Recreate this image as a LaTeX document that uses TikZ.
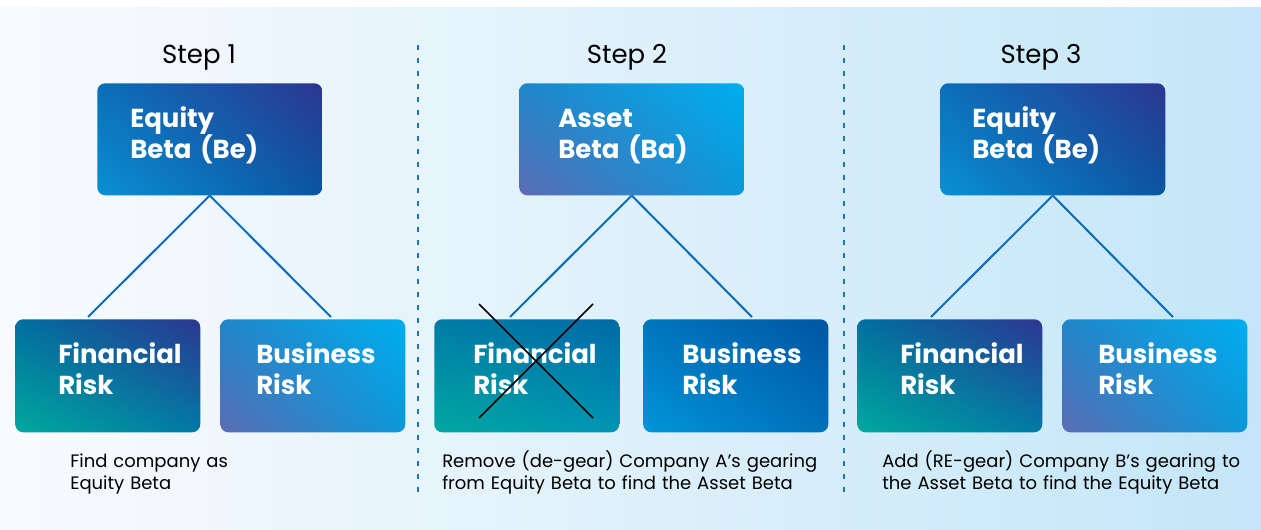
\documentclass[tikz,border=0pt]{standalone}
\usepackage{fontspec}
\setmainfont{Poppins}
\usetikzlibrary{shadings}
\newlength\px
\setlength\px{0.75pt}
\definecolor{bgl}{HTML}{F8FBFE}
\definecolor{bgr}{HTML}{C4E6F8}
\definecolor{linkc}{HTML}{0B6CB8}
\definecolor{divc}{HTML}{1B75BC}
% card colours
\definecolor{eqA}{HTML}{0A6FB8}\definecolor{eqB}{HTML}{2D3691}
\definecolor{eqC}{HTML}{0A90D5}\definecolor{eqD}{HTML}{0A55A0}
\definecolor{cyA}{HTML}{1F86C8}\definecolor{cyB}{HTML}{00AEEF}
\definecolor{cyC}{HTML}{5B6CB4}\definecolor{cyD}{HTML}{0A97D8}
\definecolor{tlA}{HTML}{006FA0}\definecolor{tlB}{HTML}{2D3691}
\definecolor{tlC}{HTML}{00A99D}\definecolor{tlD}{HTML}{0079A6}
\definecolor{tmA}{HTML}{007BA6}\definecolor{tmB}{HTML}{006AA6}
\definecolor{tmC}{HTML}{00A8A0}\definecolor{tmD}{HTML}{0095B5}
\definecolor{bmA}{HTML}{0075BD}\definecolor{bmB}{HTML}{0055A4}
\definecolor{bmC}{HTML}{0095D8}\definecolor{bmD}{HTML}{0070BB}

\begin{document}
\begin{tikzpicture}[x=1\px,y=-1\px]
\tikzset{card/.style={anchor=north west, inner xsep=0pt, inner ysep=0pt,
    rounded corners=6pt, text=white, align=left,
    font=\fontsize{19.5pt}{23.25pt}\selectfont\bfseries,
    text height=44\px, execute at begin node={\leftskip=#1\px}},
  topcard/.style={card=#1, text width=225\px, text depth=68\px},
  lowcard/.style={card=#1, text width=185\px, text depth=69\px},
  sh/.style={upper left=#1A, upper right=#1B, lower left=#1C, lower right=#1D},
  link/.style={draw=linkc, line width=1.5pt},
  steplbl/.style={anchor=base, font=\fontsize{19.5pt}{24pt}\selectfont},
  note/.style={anchor=base west, align=left, text width=400\px, inner sep=0pt,
    font=\fontsize{13.5pt}{16.5pt}\selectfont}}
\useasboundingbox (0,0) rectangle (1261,530);
% background
\shade[left color=bgl, right color=bgr] (0,8) rectangle (1261,530);
% dotted dividers
\foreach \x in {418,844}{\draw[divc, line width=2pt, dash pattern=on 5\px off 8\px] (\x,45) -- (\x,492);}
% ================= step 1 =================
\node[steplbl] (s1) at (199,64) {Step 1};
\node[topcard=33, sh=eq] (eq1) at (97,83) {Equity\\Beta (Be)};
\node[lowcard=43, sh=tl] (fin1) at (15,319) {Financial\\Risk};
\node[lowcard=36, sh=cy] (bus1) at (220,319) {Business\\Risk};
\draw[link] (eq1.south) -- ([xshift=73\px,yshift=2\px]fin1.north west);
\draw[link] (eq1.south) -- ([xshift=111\px,yshift=2\px]bus1.north west);
\node[note] (n1) at (70,468) {Find company as\\Equity Beta};
% ================= step 2 =================
\node[steplbl] (s2) at (627,64) {Step 2};
\node[topcard=39, sh=cy] (as2) at (519,83) {Asset\\Beta (Ba)};
\node[lowcard=39, sh=tm] (fin2) at (434,319) {Financial\\Risk};
\node[lowcard=39, sh=bm] (bus2) at (643,319) {Business\\Risk};
\draw[link] (as2.south) -- ([xshift=76\px,yshift=2\px]fin2.north west);
\draw[link] (as2.south) -- ([xshift=109\px,yshift=2\px]bus2.north west);
% cross over financial risk
\draw[line width=1.2pt] (479,304) -- (593,418);
\draw[line width=1.2pt] (593,304) -- (479,418);
\node[note] (n2) at (442,468) {Remove (de-gear) Company A’s gearing\\from Equity Beta to find the Asset Beta};
% ================= step 3 =================
\node[steplbl] (s3) at (1041,64) {Step 3};
\node[topcard=32, sh=eq] (eq3) at (940,83) {Equity\\Beta (Be)};
\node[lowcard=43, sh=tl] (fin3) at (857,319) {Financial\\Risk};
\node[lowcard=36, sh=cy] (bus3) at (1062,319) {Business\\Risk};
\draw[link] (eq3.south) -- ([xshift=74\px,yshift=2\px]fin3.north west);
\draw[link] (eq3.south) -- ([xshift=111\px,yshift=2\px]bus3.north west);
\node[note] (n3) at (882,468) {Add (RE-gear) Company B’s gearing to\\the Asset Beta to find the Equity Beta};
\end{tikzpicture}
\end{document}
